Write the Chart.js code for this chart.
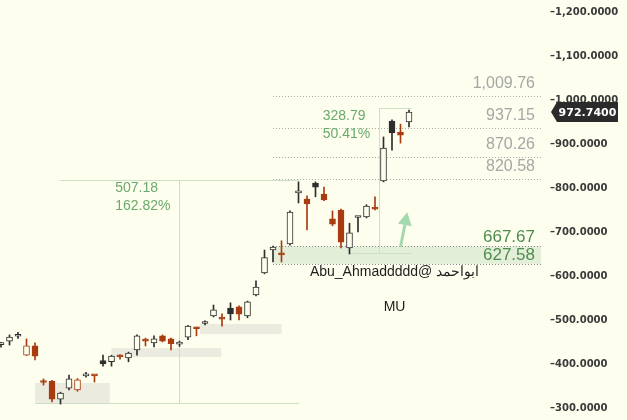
<!DOCTYPE html>
<html>
<head>
<meta charset="utf-8">
<title>MU</title>
<script src="https://cdn.jsdelivr.net/npm/chart.js@4.4.0/dist/chart.umd.min.js"></script>
<style>
  html, body { margin: 0; padding: 0; background: #fefeee; }
  #wrap { width: 627px; height: 420px; position: relative; }
</style>
</head>
<body>
<div id="wrap"><canvas id="chart"></canvas></div>
<script>
// Candles (weekly bars)
const open  = [444,452,463,420,441,360,361,320,345,341,373,374,408,405,417,414,432,453,448,464,457,445,461,481,492,509,503,527,530,509,557,607,659,650,673,789,775,811,786,730,750,664,733,734,754,816,952,927,950];
const high  = [449,466,472,457,448,366,363,336,375,367,381,374.5,420,420,421,427,466,459,464,466,459,452,488,484,498,534,514,539,532,543,589,659,668,680,748,814,782,814,802,748,752,720,735,762,780,916,955,945,977];
const low   = [438,443,458,419,409,352,314,309,341,338,370,359,395,395,411,405,420,441,439,450,432,440,455,464,489,507,486,500,500,505,555,605,632,632,670,766,705,780,771,714,664,650,700,732,750,814,886,902,939];
const close = [446,461,465,441,418,358,320,334,366,364,376,373,400,418,416,425,464,452,457,452,446,447,486,480,494,523,502,514,513,541,575,642,666,648,745,792,764,802,773,718,677,698,734,759,752,891,925,920,972.74];

// Horizontal levels drawn from bar 32 to the right edge
const levelFrom = 32;
const levelValues = [1009.76, 937.15, 870.26, 820.58];
const zoneValues = [627.58, 667.67];

// Measure tools (base -> top)
const measureBase = [311.50, 652.24];
const measureTop = [818.68, 981.03];
const measureAt = [21, 44.5];
const measureTopFrom = [6.9, 44.5];
const measureBaseFrom = [4, 41.2];
const measureTo = [35.1, 48.3];

// Grey support boxes
const boxFrom = [4, 13, 23.4];
const boxTo = [12.8, 25.9, 33];
const boxLow = [311.5, 416, 468];
const boxHigh = [357, 436, 491];

// Arrow
const arrowX = [47, 47.8];
const arrowY = [666, 745];

// Texts
const watermark = 'Abu_Ahmaddddd@ ابواحمد';
const symbol = 'MU';
const markAt = 46.3;
const markValue = 609;
const symbolValue = 529.5;

const RED = '#a83c10';
const BLACK = '#2e2e2e';
const BG = '#fefeee';

const idx = close.map((c, i) => i);
const colors = idx.map(i => (i === 0 || close[i] >= close[i - 1]) ? BLACK : RED);
const fills = idx.map(i => close[i] > open[i] ? BG : colors[i]);

const annotations = {
    id: 'annotations',
    beforeDatasetsDraw(chart) {
        const {ctx, chartArea: area, scales} = chart;
        const px = v => scales.x.getPixelForValue(v);
        const py = v => scales.y.getPixelForValue(v);
        const crisp = v => Math.round(v) + 0.5;
        ctx.save();

        // support boxes
        ctx.fillStyle = '#ebebdf';
        boxFrom.forEach((from, i) => {
            const x0 = px(from), x1 = px(boxTo[i]);
            const y0 = py(boxHigh[i]), y1 = py(boxLow[i]);
            ctx.fillRect(x0, y0, x1 - x0, y1 - y0);
        });

        // green zone
        const lx = px(levelFrom);
        ctx.fillStyle = '#e3eed9';
        ctx.fillRect(lx, py(zoneValues[1]), area.right - lx, py(zoneValues[0]) - py(zoneValues[1]));

        // measure lines
        ctx.strokeStyle = '#cde0c6';
        ctx.lineWidth = 1;
        measureBase.forEach((base, i) => {
            const yt = crisp(py(measureTop[i])), yb = crisp(py(base));
            const xv = crisp(px(measureAt[i]));
            ctx.beginPath();
            ctx.moveTo(px(measureTopFrom[i]), yt); ctx.lineTo(px(measureTo[i]), yt);
            ctx.moveTo(px(measureBaseFrom[i]), yb); ctx.lineTo(px(measureTo[i]), yb);
            ctx.moveTo(xv, yt); ctx.lineTo(xv, yb);
            ctx.stroke();
        });

        // dotted levels
        ctx.setLineDash([1, 2]);
        ctx.strokeStyle = '#ababab';
        levelValues.forEach(v => {
            const yy = crisp(py(v));
            ctx.beginPath(); ctx.moveTo(lx, yy); ctx.lineTo(area.right, yy); ctx.stroke();
        });
        ctx.strokeStyle = '#8a8a8a';
        zoneValues.forEach(v => {
            const yy = crisp(py(v));
            ctx.beginPath(); ctx.moveTo(lx, yy); ctx.lineTo(area.right, yy); ctx.stroke();
        });
        ctx.setLineDash([]);

        // watermark
        ctx.fillStyle = '#1e1e1e';
        ctx.font = '14px "Liberation Sans", sans-serif';
        ctx.textAlign = 'center';
        ctx.textBaseline = 'middle';
        ctx.fillText(watermark, px(markAt), py(markValue));
        ctx.fillText(symbol, px(markAt), py(symbolValue));

        // arrow
        const ax0 = px(arrowX[0]), ay0 = py(arrowY[0]);
        const ax1 = px(arrowX[1]), ay1 = py(arrowY[1]);
        const ang = Math.atan2(ay1 - ay0, ax1 - ax0);
        const head = 13, half = 7;
        const bx = ax1 - head * Math.cos(ang), by = ay1 - head * Math.sin(ang);
        ctx.strokeStyle = '#a4d8af';
        ctx.fillStyle = '#a4d8af';
        ctx.lineWidth = 3;
        ctx.beginPath(); ctx.moveTo(ax0, ay0); ctx.lineTo(bx, by); ctx.stroke();
        ctx.beginPath();
        ctx.moveTo(ax1, ay1);
        ctx.lineTo(bx + half * Math.sin(ang), by - half * Math.cos(ang));
        ctx.lineTo(bx - half * Math.sin(ang), by + half * Math.cos(ang));
        ctx.closePath();
        ctx.fill();

        ctx.restore();
    },
    afterDatasetsDraw(chart) {
        const {ctx, chartArea: area, scales} = chart;
        const px = v => scales.x.getPixelForValue(v);
        const py = v => scales.y.getPixelForValue(v);
        const fmt = v => v.toLocaleString('en-US', {minimumFractionDigits: 2, maximumFractionDigits: 2});
        ctx.save();
        ctx.textBaseline = 'alphabetic';

        // level labels
        ctx.textAlign = 'right';
        ctx.font = '16px "Liberation Sans", sans-serif';
        ctx.fillStyle = '#a6a6a6';
        levelValues.forEach(v => ctx.fillText(fmt(v), area.right - 6, py(v) - 8));
        ctx.font = '17px "Liberation Sans", sans-serif';
        ctx.fillStyle = '#4e8c4e';
        zoneValues.forEach(v => ctx.fillText(fmt(v), area.right - 6, py(v) - 4));

        // measure labels
        ctx.textAlign = 'left';
        ctx.font = '14px "Liberation Sans", sans-serif';
        ctx.fillStyle = '#6aaa6a';
        measureBase.forEach((base, i) => {
            const diff = measureTop[i] - base;
            const a = diff.toFixed(2);
            const b = (diff / base * 100).toFixed(2) + '%';
            const w = Math.max(ctx.measureText(a).width, ctx.measureText(b).width);
            const x0 = px(measureAt[i]) - 9 - w;
            const yt = py(measureTop[i]);
            ctx.fillText(a, x0, yt + 12);
            ctx.fillText(b, x0, yt + 30);
        });
        ctx.restore();
    },
    afterDraw(chart) {
        const {ctx, chartArea: area, scales} = chart;
        const last = close[close.length - 1];
        const yy = scales.y.getPixelForValue(last);
        const x0 = area.right + 16, x1 = area.right + 77;
        ctx.save();
        ctx.fillStyle = '#2b2b2b';
        ctx.beginPath();
        ctx.moveTo(x0 - 6, yy);
        ctx.lineTo(x0, yy - 10);
        ctx.lineTo(x1, yy - 10);
        ctx.lineTo(x1, yy + 10);
        ctx.lineTo(x0, yy + 10);
        ctx.closePath();
        ctx.fill();
        ctx.fillStyle = '#ffffff';
        ctx.font = 'bold 11px "DejaVu Sans", sans-serif';
        ctx.textAlign = 'center';
        ctx.textBaseline = 'middle';
        ctx.fillText(last.toFixed(4), (x0 + x1) / 2, yy + 1);
        ctx.restore();
    }
};

function initChart() {
    const ctx = document.getElementById('chart').getContext('2d');
    new Chart(ctx, {
        type: 'bar',
        data: {
            datasets: [{
                label: 'wick',
                data: idx.map(i => ({x: i, y: [low[i], high[i]]})),
                backgroundColor: colors,
                barThickness: 1,
                grouped: false,
                order: 2
            }, {
                label: 'body',
                data: idx.map(i => ({x: i, y: [open[i], close[i]]})),
                backgroundColor: fills,
                borderColor: colors,
                borderWidth: 1,
                borderSkipped: false,
                barThickness: 6,
                minBarLength: 2,
                grouped: false,
                order: 1
            }]
        },
        options: {
            responsive: true,
            maintainAspectRatio: false,
            animation: false,
            layout: { padding: 0 },
            plugins: {
                legend: { display: false },
                tooltip: { enabled: false }
            },
            scales: {
                x: {
                    type: 'linear',
                    display: false,
                    offset: false,
                    min: -0.1176,
                    max: 63.53
                },
                y: {
                    position: 'right',
                    min: 272.7,
                    max: 1227.3,
                    grid: { display: false },
                    border: { display: false },
                    ticks: {
                        stepSize: 100,
                        includeBounds: false,
                        autoSkip: false,
                        padding: 1,
                        color: '#3a3a3a',
                        font: { family: 'DejaVu Sans', size: 10, weight: 'bold' },
                        callback: function(value) {
                            return '–' + value.toLocaleString('en-US', {minimumFractionDigits: 4, maximumFractionDigits: 4});
                        }
                    },
                    afterFit: function(scale) {
                        scale.width = 86;
                        scale.paddingTop = 0;
                        scale.paddingBottom = 0;
                    }
                }
            }
        },
        plugins: [annotations]
    });
}

document.addEventListener('DOMContentLoaded', initChart);
</script>
</body>
</html>
